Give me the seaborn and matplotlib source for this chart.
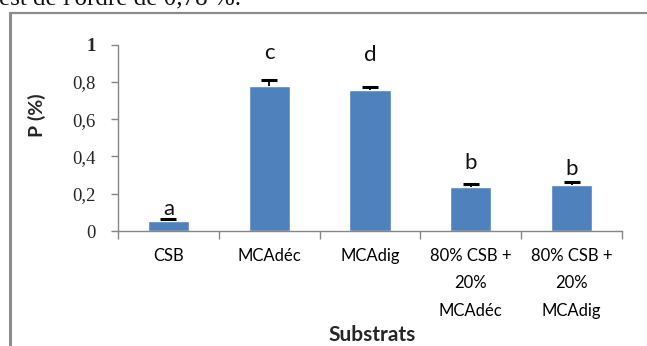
import matplotlib
matplotlib.use("Agg")
import matplotlib.pyplot as plt
import seaborn as sns
import pandas as pd
import numpy as np
from matplotlib.lines import Line2D

# Phosphorus content per substrate
substrats = ["CSB", "MCAdéc", "MCAdig", "80% CSB +\n20%\nMCAdéc", "80% CSB +\n20%\nMCAdig"]
p_values = [0.055, 0.78, 0.755, 0.237, 0.247]
p_errors = [0.008, 0.028, 0.020, 0.015, 0.018]
groups = ["a", "c", "d", "b", "b"]
group_y = [0.118, 0.957, 0.946, 0.366, 0.333]
y_ticks = [0, 0.2, 0.4, 0.6, 0.8, 1]
y_tick_labels = ["0", "0,2", "0,4", "0,6", "0,8", "1"]

df = pd.DataFrame({"Substrat": substrats, "P": p_values})

sns.set_theme(style="white")
plt.rcParams["font.family"] = ["Lato", "DejaVu Sans"]

W, H = 647, 346
fig = plt.figure(figsize=(W / 100, H / 100), dpi=100)
ax = fig.add_axes([118 / W, 1 - 231 / H, (622 - 118) / W, (231 - 44.7) / H])

bar_color = "#4F81BD"
sns.barplot(data=df, x="Substrat", y="P", color=bar_color, saturation=1,
            width=0.41, ax=ax, errorbar=None)

# upper error bars only: stem from the bar top plus a cap
xs = np.arange(len(p_values))
tops = np.array(p_values) + np.array(p_errors)
ax.vlines(xs, p_values, tops, colors="black", linewidth=1.3, zorder=3)
ax.plot(xs, tops, linestyle="none", marker="_", markersize=11, markeredgewidth=2.2,
        color="black", zorder=3)

# significance letters
for i, (g, gy) in enumerate(zip(groups, group_y)):
    ax.text(i, gy, g, ha="center", va="center", fontsize=16, color="#111111",
            fontfamily=["Lato", "DejaVu Sans"])

ax.set_xlim(-0.5, len(substrats) - 0.5)
ax.set_ylim(0, 1)

grey = "#868686"
for side in ["top", "right"]:
    ax.spines[side].set_visible(False)
for side in ["left", "bottom"]:
    ax.spines[side].set_color(grey)
    ax.spines[side].set_linewidth(1.0)

ax.set_yticks(y_ticks)
ax.set_yticklabels(y_tick_labels, fontfamily=["Liberation Serif"], fontsize=13.5)
ax.get_yticklabels()[-1].set_fontweight("bold")
ax.tick_params(axis="y", left=True, direction="out", length=5, width=1, color=grey, pad=11)

# category labels centred, tick marks on the category boundaries
ax.set_xticks(range(len(substrats)))
ax.set_xticklabels(substrats, fontsize=12, linespacing=1.9, color="black")
ax.tick_params(axis="x", which="major", length=0, pad=12)
ax.set_xticks([i - 0.5 for i in range(len(substrats) + 1)], minor=True)
ax.tick_params(axis="x", which="minor", bottom=True, direction="out", length=6, width=1, color=grey)

ax.set_xlabel("")
ax.set_ylabel("")
fig.text(37 / W, 1 - 115 / H, "P (%)", rotation=90, ha="center", va="center",
         fontsize=14, fontweight="bold")
fig.text(372 / W, 1 - 335 / H, "Substrats", ha="center", va="center",
         fontsize=15, fontweight="bold")

# surrounding frame and the line of body text above it
fig.add_artist(Line2D([10 / W, 10 / W], [0, 1 - 13 / H], transform=fig.transFigure,
                      color="#8c8c8c", linewidth=2.2))
fig.add_artist(Line2D([10 / W, 1], [1 - 13 / H, 1 - 13 / H], transform=fig.transFigure,
                      color="#8c8c8c", linewidth=1.6))
fig.text(-0.002, 1 - 4.5 / H, "est de l'ordre de 0,78 %.", ha="left", va="baseline",
         fontsize=18, fontfamily=["Liberation Serif"], color="#111111")

fig.savefig("out.png", dpi=100)
